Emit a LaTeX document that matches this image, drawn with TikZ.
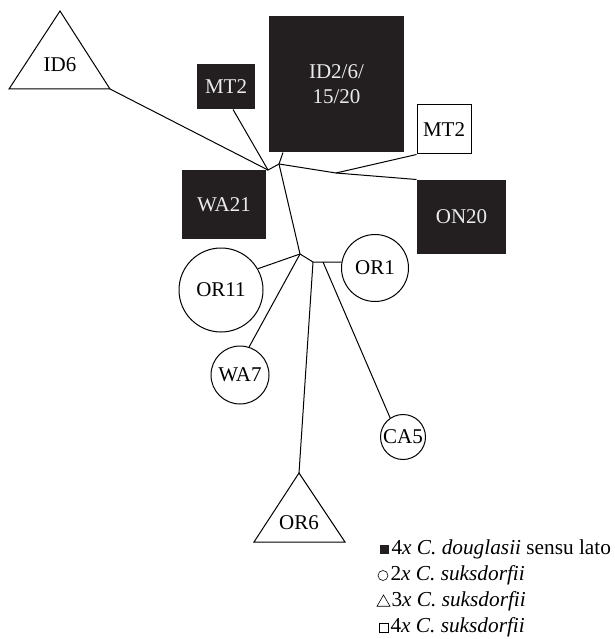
\documentclass[tikz,border=0pt]{standalone}
\usepackage{fontspec}
\setmainfont{Liberation Serif}
\usetikzlibrary{shapes.geometric}
\definecolor{hapdark}{HTML}{231F20}
\tikzset{
  hapbox/.style={fill=hapdark,text=white!92!black,inner sep=0pt,align=center,
    font=\fontsize{21}{24.5}\selectfont},
  hapopen/.style={draw,inner sep=0pt,font=\fontsize{21}{24.5}\selectfont},
  hapcirc/.style={draw,circle,inner sep=0pt,font=\fontsize{21}{24.5}\selectfont},
  haplbl/.style={inner sep=0pt,font=\fontsize{21}{24.5}\selectfont},
  keytext/.style={anchor=base west,inner sep=0pt,font=\fontsize{21.3}{24}\selectfont},
}
\begin{document}
\begin{tikzpicture}[x=1pt,y=-1pt,line width=1pt]
  \useasboundingbox (0,0) rectangle (614,639);

  % filled squares
  \node[hapbox,minimum width=135,minimum height=136] (id2) at (336.5,84) {ID2/6/\\15/20};
  \node[hapbox,minimum width=58,minimum height=45] (mtb) at (226,86.5) {MT2};
  \node[hapbox,minimum width=84,minimum height=69] (wa21) at (224,204.5) {WA21};
  \node[hapbox,minimum width=89,minimum height=74] (on20) at (461.5,217) {ON20};
  \node[hapopen,minimum width=54,minimum height=49] (mtw) at (444,129.5) {MT2};

  % circles
  \node[hapcirc,minimum size=84] (or11) at (221,290) {OR11};
  \node[hapcirc,minimum size=67] (or1) at (375,268) {OR1};
  \node[hapcirc,minimum size=58] (wa7) at (240,375) {WA7};
  \node[hapcirc,minimum size=45] (ca5) at (403,437) {CA5};

  % triangles
  \coordinate (id6top) at (60,11);
  \coordinate (id6l) at (9,89);
  \coordinate (id6r) at (110,89);
  \draw (id6top) -- (id6l) -- (id6r) -- cycle;
  \node[haplbl] (id6) at (60,65) {ID6};

  \coordinate (or6top) at (299,473);
  \coordinate (or6l) at (254,542);
  \coordinate (or6r) at (345,542);
  \draw (or6top) -- (or6l) -- (or6r) -- cycle;
  \node[haplbl] (or6) at (299,523) {OR6};

  % median vectors
  \coordinate (j1) at (268,170);
  \coordinate (j2) at (279,164);
  \coordinate (j3) at (336,173);
  \coordinate (j4) at (300,254);
  \coordinate (j5) at (313,262);
  \coordinate (j6) at (323,262);

  \draw (id6r) -- (j1);
  \draw (mtb.-73) -- (j1);
  \draw (wa21.north east) -- (j1) -- (j2);
  \draw (j2) -- (id2.-128);
  \draw (j2) -- (j3);
  \draw (j3) -- (mtw.south west);
  \draw (j3) -- (on20.north west);
  \draw (j2) -- (j4);
  \draw (j4) -- (or11.30);
  \draw (j4) -- (wa7.72);
  \draw (j4) -- (j5) -- (j6) -- (or1.170);
  \draw (j5) -- (or6top);
  \draw (j6) -- (ca5.124);

  % key
  \node[fill=hapdark,minimum size=9,inner sep=0pt] (k1) at (384.5,549.5) {};
  \node[draw,circle,line width=0.6pt,minimum size=10,inner sep=0pt] (k2) at (383,575.5) {};
  \node[draw,regular polygon,regular polygon sides=3,line width=0.6pt,minimum size=15,inner sep=0pt] (k3) at (383.5,602.5) {};
  \node[draw,line width=0.6pt,minimum size=9,inner sep=0pt] (k4) at (383.5,627.5) {};
  \node[keytext] (t1) at (391,554) {4\textit{x C. douglasii} sensu lato};
  \node[keytext] (t2) at (390,580) {2\textit{x C. suksdorfii}};
  \node[keytext] (t3) at (391,606) {3\textit{x C. suksdorfii}};
  \node[keytext] (t4) at (390,632) {4\textit{x C. suksdorfii}};
\end{tikzpicture}
\end{document}
